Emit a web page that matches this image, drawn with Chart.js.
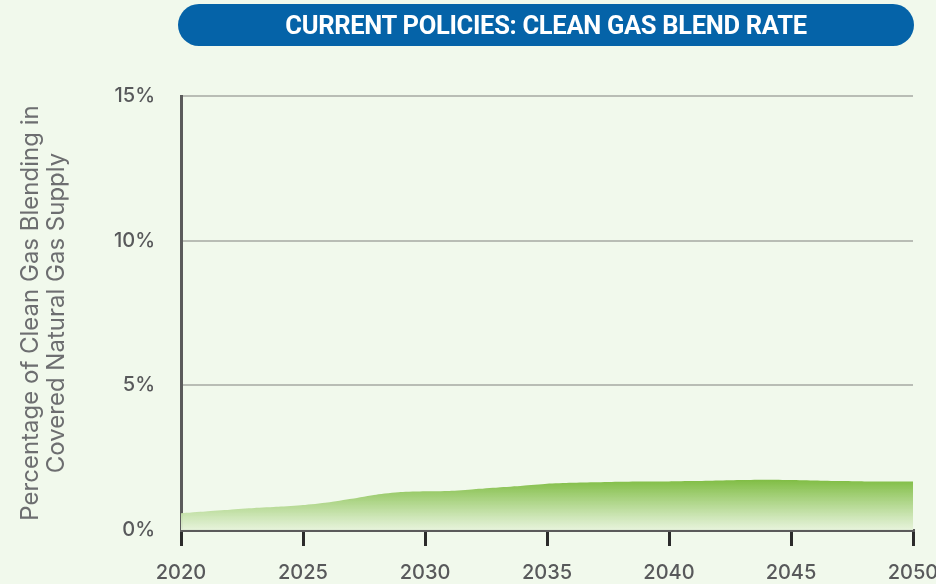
<!DOCTYPE html>
<html>
<head>
<meta charset="utf-8">
<script src="https://cdn.jsdelivr.net/npm/chart.js@4.4.1/dist/chart.umd.min.js"></script>
<style>
  html, body { margin: 0; padding: 0; background: #f1f9ec; }
  #wrap { position: relative; width: 936px; height: 584px; }
  #title {
    position: absolute; left: 178px; top: 4px; width: 736px; height: 42px;
    background: #0563a8; border-radius: 21px; color: #fff;
    font: 700 25.5px Roboto, sans-serif; letter-spacing: -0.3px;
    display: flex; align-items: center; justify-content: center;
  }
  canvas { position: absolute; left: 0; top: 0; }
</style>
</head>
<body>
<div id="wrap">
  <canvas id="chart" width="936" height="584"></canvas>
  <div id="title">CURRENT POLICIES: CLEAN GAS BLEND RATE</div>
</div>
<script>
// years and blend rate (%)
const years = [2020, 2021, 2022, 2023, 2024, 2025, 2026, 2027, 2028, 2029, 2030,
  2031, 2032, 2033, 2034, 2035, 2036, 2037, 2038, 2039, 2040,
  2041, 2042, 2043, 2044, 2045, 2046, 2047, 2048, 2049, 2050];
const blendRate = [0.58, 0.64, 0.70, 0.76, 0.80, 0.86, 0.95, 1.08, 1.22, 1.31, 1.34,
  1.35, 1.41, 1.47, 1.53, 1.60, 1.63, 1.65, 1.67, 1.68, 1.68,
  1.69, 1.71, 1.73, 1.74, 1.73, 1.71, 1.69, 1.68, 1.68, 1.68];
const yTicks = [0, 5, 10, 15];
const yTitle = ['Percentage of Clean Gas Blending in', 'Covered Natural Gas Supply'];

const ctx = document.getElementById('chart').getContext('2d');

// green fade from the top of the area down to the axis
function areaFill(context) {
  const { chart } = context;
  const area = chart.chartArea;
  if (!area) return '#9fcf6e';
  const yScale = chart.scales.y;
  const top = yScale.getPixelForValue(Math.max(...blendRate));
  const g = chart.ctx.createLinearGradient(0, top, 0, area.bottom);
  g.addColorStop(0, '#80bd44');
  g.addColorStop(1, 'rgba(230, 243, 219, 0.95)');
  return g;
}

new Chart(ctx, {
  type: 'line',
  data: {
    datasets: [{
      data: years.map((yr, i) => ({ x: yr, y: blendRate[i] })),
      fill: 'origin',
      backgroundColor: areaFill,
      borderWidth: 0,
      pointRadius: 0,
      tension: 0.2
    }]
  },
  options: {
    responsive: false,
    animation: false,
    layout: { padding: { top: 96, right: 0, left: 18, bottom: 0 } },
    plugins: { legend: { display: false }, tooltip: { enabled: false } },
    scales: {
      x: {
        type: 'linear',
        min: 2020, max: 2050,
        afterFit: s => { s.height = 54; s.paddingRight = 23; s.paddingLeft = 0; },
        border: { color: '#5b5b5b', width: 3 },
        grid: { drawOnChartArea: false, tickLength: 16, tickColor: '#2b2b2b', lineWidth: 3 },
        ticks: {
          stepSize: 5,
          padding: 15,
          color: '#58595b',
          font: { family: 'Inter', size: 20, weight: '500' },
          callback: v => String(v)
        }
      },
      y: {
        min: 0, max: 15,
        afterFit: s => { s.width = 163; },
        afterBuildTicks: s => { s.ticks = yTicks.map(v => ({ value: v })); },
        border: { color: '#5b5b5b', width: 3 },
        grid: { drawTicks: false, color: '#b9bdb5', lineWidth: 2 },
        ticks: {
          padding: 26,
          color: '#58595b',
          font: { family: 'Inter', size: 20, weight: '500' },
          callback: v => v + '%'
        },
        title: {
          display: true,
          text: yTitle,
          color: '#6d6e70',
          font: { family: 'Inter', size: 24, weight: '400', lineHeight: 1.08 },
          padding: { top: 0, bottom: 0 }
        }
      }
    }
  }
});
</script>
</body>
</html>
